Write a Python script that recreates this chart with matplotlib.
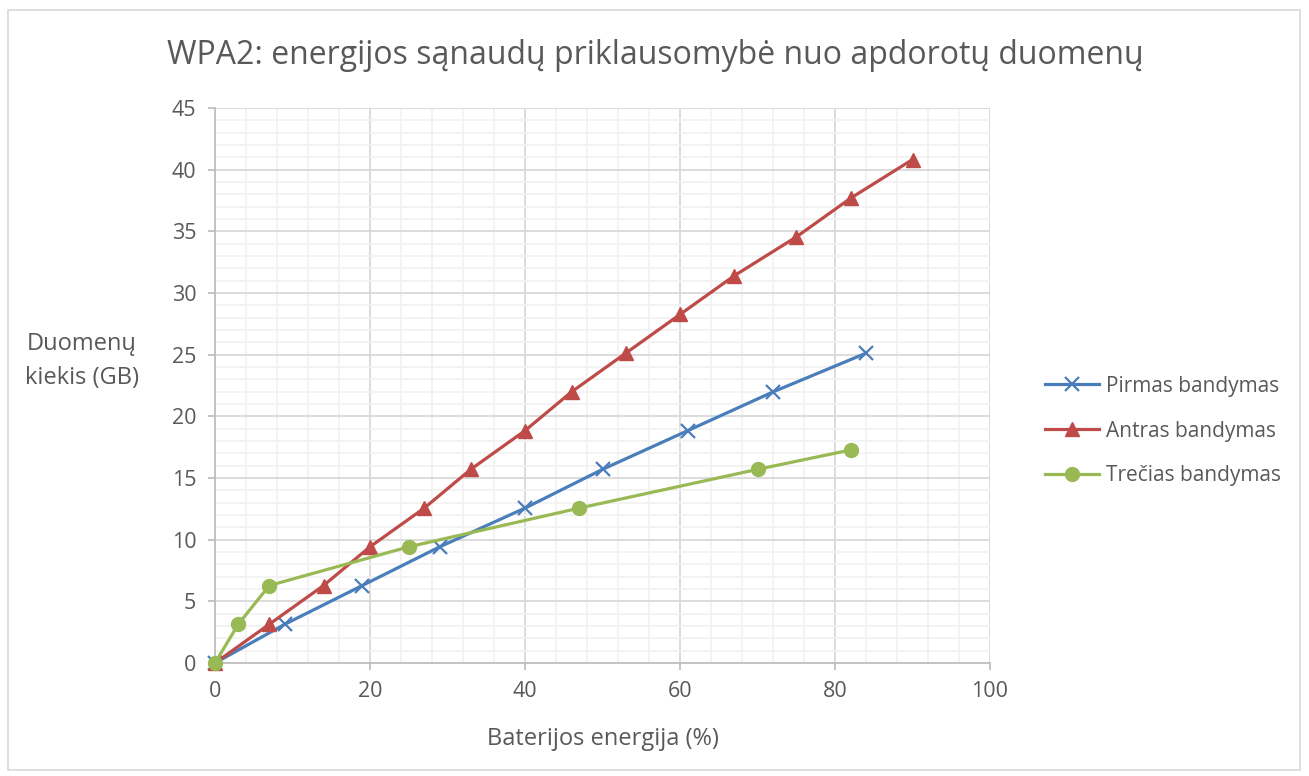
import matplotlib
matplotlib.use("Agg")
import matplotlib.pyplot as plt
from matplotlib.ticker import MultipleLocator
from matplotlib.patches import Rectangle

title = "WPA2: energijos sąnaudų priklausomybė nuo apdorotų duomenų"
xlabel = "Baterijos energija (%)"
ylabel = "Duomenų\nkiekis (GB)"

pirmas_x = [0, 9, 19, 29, 40, 50, 61, 72, 84]
pirmas_y = [0, 3.14, 6.28, 9.42, 12.56, 15.7, 18.84, 21.98, 25.12]
antras_x = [0, 7, 14, 20, 27, 33, 40, 46, 53, 60, 67, 75, 82, 90]
antras_y = [0, 3.14, 6.28, 9.42, 12.56, 15.7, 18.84, 21.98, 25.12, 28.26, 31.4, 34.54, 37.68, 40.82]
trecias_x = [0, 3, 7, 25, 47, 70, 82]
trecias_y = [0, 3.14, 6.28, 9.42, 12.56, 15.7, 17.27]

plt.rcParams['font.family'] = ['Open Sans', 'DejaVu Sans']
txt = '#595959'

fig = plt.figure(figsize=(13.09, 7.76), dpi=100)
fig.patches.append(Rectangle((8/1309, 6/776), 1292/1309, 760/776, transform=fig.transFigure,
                             fill=False, edgecolor='#D9D9D9', linewidth=1.2))
ax = fig.add_axes([215/1309, 1-663/776, 775/1309, 555/776])

ax.plot(pirmas_x, pirmas_y, color='#4A7EBB', lw=2.3, marker='x', ms=9.5, mew=1.6,
        label='Pirmas bandymas', zorder=3, clip_on=False)
ax.plot(antras_x, antras_y, color='#BE4B48', lw=2.3, marker='^', ms=10,
        label='Antras bandymas', zorder=3, clip_on=False)
ax.plot(trecias_x, trecias_y, color='#98B954', lw=2.3, marker='o', ms=10,
        label='Trečias bandymas', zorder=4, clip_on=False)

ax.set_xlim(0, 100)
ax.set_ylim(0, 45)
ax.xaxis.set_major_locator(MultipleLocator(20))
ax.xaxis.set_minor_locator(MultipleLocator(4))
ax.yaxis.set_major_locator(MultipleLocator(5))
ax.yaxis.set_minor_locator(MultipleLocator(1))
ax.grid(which='major', color='#D9D9D9', lw=1.3, zorder=0)
ax.grid(which='minor', color='#F2F2F2', lw=1.3, zorder=0)
ax.set_axisbelow(True)
for s in ['top', 'right']:
    ax.spines[s].set_visible(False)
for s in ['left', 'bottom']:
    ax.spines[s].set_color('#BFBFBF')
    ax.spines[s].set_linewidth(1.3)
ax.tick_params(axis='y', which='major', length=5, width=1.3, color='#BFBFBF', labelsize=15.5, labelcolor=txt, pad=8.5)
ax.tick_params(axis='x', which='major', length=5, width=1.3, color='#BFBFBF', labelsize=15.5, labelcolor=txt, pad=8)
ax.tick_params(which='minor', length=0)

ax.set_xlabel(xlabel, fontsize=17, color=txt, labelpad=18)
fig.text(82/1309, 1-361/776, ylabel, fontsize=17, color=txt, ha='center', va='center',
         multialignment='center', linespacing=1.5)
fig.text(655/1309, 1-55/776, title, fontsize=23, color=txt, ha='center', va='center')

leg = fig.legend(loc='center left', bbox_to_anchor=(1026/1309, 1-431/776), frameon=False,
                 fontsize=15, labelcolor=txt, handlelength=2.6, handletextpad=0.35, labelspacing=1.14)

fig.savefig('out.png', dpi=100)
